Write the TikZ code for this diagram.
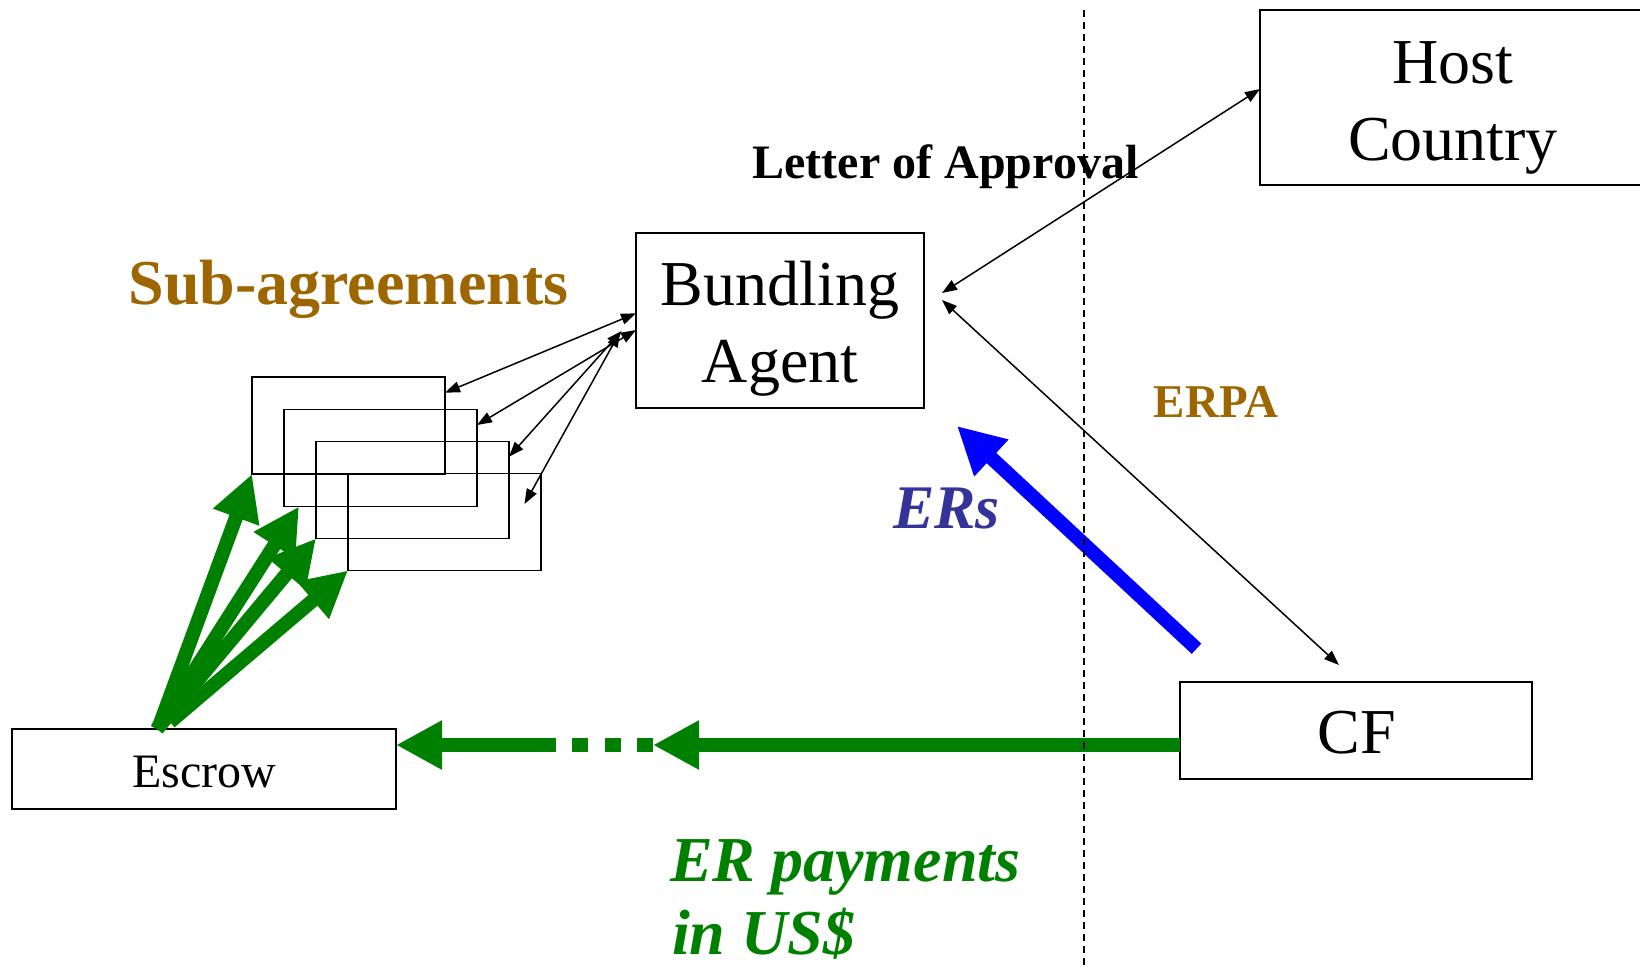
\documentclass[tikz,border=0pt]{standalone}
\usepackage{fontspec}
\setmainfont{Liberation Serif}
\usetikzlibrary{arrows.meta}
\definecolor{brownc}{RGB}{158,102,0}
\definecolor{greenc}{RGB}{0,128,0}
\definecolor{ersc}{RGB}{51,51,153}
\definecolor{bluec}{RGB}{0,0,255}
\begin{document}
\begin{tikzpicture}[x=1pt,y=-1pt,
  box/.style={draw, line width=2pt, inner sep=0pt, outer sep=0pt},
  subbox/.style={draw, line width=1.8pt, inner sep=0pt, outer sep=0pt, minimum width=193pt, minimum height=97pt},
  txt/.style={inner sep=0pt, outer sep=0pt, anchor=base},
  bigfont/.style={font=\fontsize{64}{77}\selectfont},
  thinarrow/.style={line width=1.5pt, {Triangle[length=15pt,width=11pt]}-{Triangle[length=15pt,width=11pt]}},
  garrow/.style={line width=14pt, draw=greenc, -{Triangle[length=46pt,width=46pt]}, color=greenc},
  gline/.style={line width=14pt, draw=greenc},
  barrow/.style={line width=14pt, draw=bluec, color=bluec, -{Triangle[length=47pt,width=47pt]}},
  divider/.style={line width=1.5pt, dash pattern=on 7pt off 5pt}
]
\useasboundingbox (0,0) rectangle (1640,967);
\clip (0,0) rectangle (1640,967);

% boxes
\node[box, minimum width=390pt, minimum height=175pt] (host) at (1455,97.5) {};
\node[box, minimum width=288pt, minimum height=175pt] (ba) at (780,320.5) {};
\node[box, minimum width=352pt, minimum height=97pt] (cf) at (1356,730.5) {};
\node[box, minimum width=384pt, minimum height=80pt] (esc) at (204,769) {};

% sub-agreement rectangles
\node[subbox] (r1) at (348.5,425.5) {};
\node[subbox] (r2) at (380.5,458) {};
\node[subbox] (r3) at (412.5,490) {};
\node[subbox] (r4) at (444.5,522) {};

% texts
\node[txt, bigfont] (thost) at (1453,83) {Host};
\node[txt, bigfont] (tcountry) at (1453,160) {Country};
\node[txt, bigfont] (tbund) at (780,305) {Bundling};
\node[txt, bigfont] (tagent) at (780,382) {Agent};
\node[txt, bigfont] (tcf) at (1357,753) {CF};
\node[txt, font=\fontsize{48}{58}\selectfont] (tesc) at (204,787) {Escrow};
\node[txt, font=\fontsize{48}{58}\selectfont\bfseries] (tloa) at (945.5,178) {Letter of Approval};
\node[txt, font=\fontsize{47}{56}\selectfont\bfseries, text=brownc] (terpa) at (1216,417) {ERPA};
\node[txt, font=\fontsize{64}{77}\selectfont\bfseries, text=brownc] (tsub) at (348.5,304) {Sub-agreements};
\node[txt, font=\fontsize{62}{75}\selectfont\bfseries\itshape, text=ersc] (ters) at (946.5,528) {ERs};
\node[txt, anchor=base west, font=\fontsize{64}{77}\selectfont\bfseries\itshape, text=greenc] (terp1) at (670,881) {ER payments};
\node[txt, anchor=base west, font=\fontsize{64}{77}\selectfont\bfseries\itshape, text=greenc] (terp2) at (672,954) {in US\$};

% thin double arrows
\draw[thinarrow] ([yshift=7.2pt]ba.west) -- ([yshift=32.8pt]r1.east);
\draw[thinarrow] ([yshift=-9.5pt]ba.west) -- ([yshift=33pt]r2.east);
\draw[thinarrow] ([xshift=-14.3pt,yshift=-10.5pt]ba.west) -- ([yshift=33.3pt]r3.east);
\draw[thinarrow] ([xshift=-16pt,yshift=-11.5pt]ba.west) -- ([xshift=-16.5pt,yshift=18pt]r4.east);
\draw[thinarrow] ([xshift=18pt,yshift=27.5pt]ba.east) -- ([yshift=8.5pt]host.west);
\draw[thinarrow] ([xshift=18pt,yshift=20.5pt]ba.east) -- ([xshift=-17pt,yshift=17pt]cf.north);

% green arrows from escrow to sub-agreements
\draw[garrow] ([xshift=-46pt]esc.north) -- (r1.south west);
\draw[garrow] ([xshift=-47pt]esc.north) -- ([xshift=15pt]r2.south west);
\draw[garrow] ([xshift=-47pt]esc.north) -- (r3.south west);
\draw[garrow] ([xshift=-34pt,yshift=7pt]esc.north) -- (r4.south west);

% ER payments arrow
\coordinate (m1) at (653,745);
\coordinate (m2) at (540,745);
\draw[garrow] ([yshift=-14.5pt]cf.west) -- (m1);
\draw[gline, dash pattern=on 16pt off 16.33pt] (m1) -- (m2);
\draw[garrow] (m2) -- ([yshift=24pt]esc.east);

% ERs arrow
\coordinate (ersA) at (1196.5,648.7);
\coordinate (ersB) at (957,426);
\draw[barrow] (ersA) -- (ersB);

% divider
\coordinate (dtop) at (1084,10);
\coordinate (dbot) at (1084,967);
\draw[divider] (dtop) -- (dbot);
\end{tikzpicture}
\end{document}
